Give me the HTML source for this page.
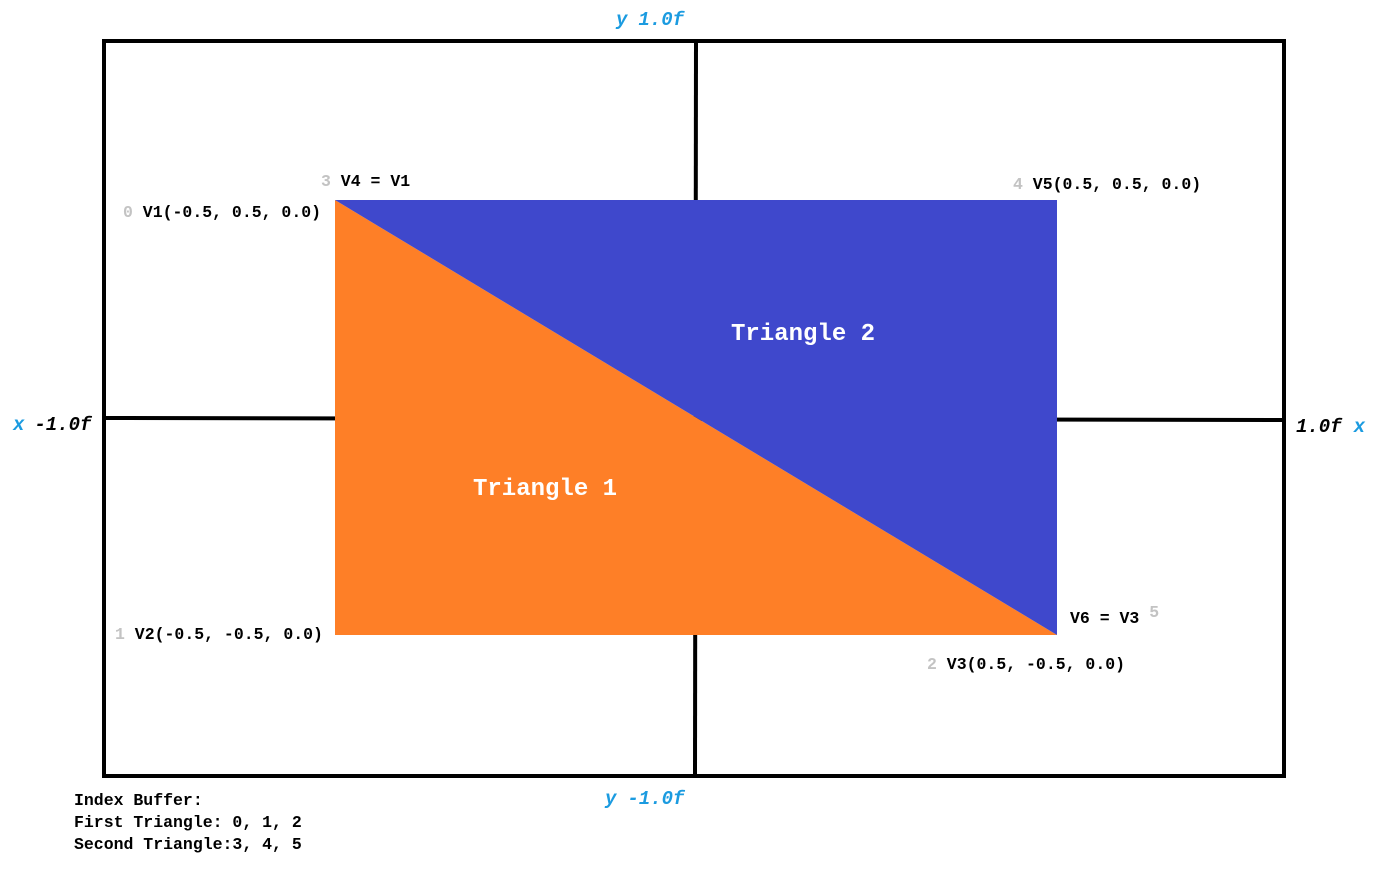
<!DOCTYPE html>
<html><head><meta charset="utf-8"><style>
html,body{margin:0;padding:0;background:#fff;width:1386px;height:895px;overflow:hidden}
svg{display:block}
text{font-family:"Liberation Mono",monospace;font-weight:bold;font-size:16.5px}
.g{fill:#c3c3c3}
.b{fill:#1b9be0;font-style:italic}
.i{font-style:italic}
.ax{font-size:19px}
.w{fill:#fff;font-size:24px}
</style></head><body>
<svg id="c" width="1386" height="895">
<rect x="104" y="41" width="1180" height="735" fill="none" stroke="#000" stroke-width="4"/>
<line x1="696" y1="41" x2="695" y2="776" stroke="#000" stroke-width="4"/>
<line x1="104" y1="418" x2="1284" y2="420" stroke="#000" stroke-width="4"/>
<g id="tris"></g>
<text x="616" y="25" class="ax"><tspan class="b">y</tspan><tspan class="b" dx="11">1.0f</tspan></text>
<text x="605" y="804" class="ax"><tspan class="b">y</tspan><tspan class="b" dx="11">-1.0f</tspan></text>
<text x="13" y="430" class="ax"><tspan class="b">x</tspan><tspan class="i" dx="10">-1.0f</tspan></text>
<text x="1296" y="432" class="ax"><tspan class="i">1.0f</tspan><tspan class="b" dx="12">x</tspan></text>
<text x="123" y="217"><tspan class="g">0</tspan> V1(-0.5, 0.5, 0.0)</text>
<text x="321" y="186"><tspan class="g">3</tspan> V4 = V1</text>
<text x="1013" y="189"><tspan class="g">4</tspan> V5(0.5, 0.5, 0.0)</text>
<text x="115" y="639"><tspan class="g">1</tspan> V2(-0.5, -0.5, 0.0)</text>
<text x="1070" y="623">V6 = V3 <tspan class="g" dy="-6">5</tspan></text>
<text x="927" y="669"><tspan class="g">2</tspan> V3(0.5, -0.5, 0.0)</text>
<text x="473" y="495" class="w">Triangle 1</text>
<text x="731" y="340" class="w">Triangle 2</text>
<text x="74" y="805">Index Buffer:</text>
<text x="74" y="827">First Triangle: 0, 1, 2</text>
<text x="74" y="849">Second Triangle:3, 4, 5</text>
</svg>
<script>
const vertX=[-0.5,-0.5,0.5,-0.5,0.5,0.5];
const vertY=[0.5,-0.5,-0.5,0.5,0.5,-0.5];
const indices=[0,1,2,3,4,5];
const triColors=["#fe7f27","#3f48cc"];
function sx(v){return 696+v*722;}
function sy(v){return 417.5-v*435;}
const g=document.getElementById('tris');
for(let t=0;t<indices.length/3;t++){
  const pts=[];
  for(let k=0;k<3;k++){const i=indices[t*3+k];pts.push(sx(vertX[i])+','+sy(vertY[i]));}
  const p=document.createElementNS('http://www.w3.org/2000/svg','polygon');
  p.setAttribute('points',pts.join(' '));
  p.setAttribute('fill',triColors[t]);
  
  
  g.appendChild(p);
}
</script>
</body></html>
